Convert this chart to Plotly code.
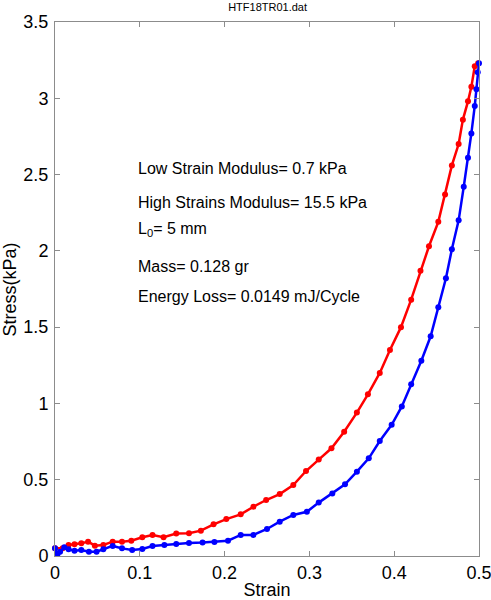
import plotly.graph_objects as go

# Loading curve (red)
red_strain = [0.0, 0.009, 0.016, 0.023, 0.031, 0.039, 0.047, 0.057, 0.068, 0.079, 0.090,
              0.103, 0.115, 0.128, 0.143, 0.158, 0.172, 0.187, 0.202, 0.219, 0.234, 0.249,
              0.265, 0.281, 0.296, 0.311, 0.326, 0.341, 0.356, 0.369, 0.383, 0.395, 0.408,
              0.420, 0.431, 0.441, 0.452, 0.460, 0.468, 0.476, 0.481, 0.487, 0.491, 0.495, 0.499]
red_stress = [0.05, 0.05, 0.072, 0.077, 0.083, 0.094, 0.068, 0.072, 0.094, 0.094, 0.10,
              0.123, 0.138, 0.123, 0.147, 0.149, 0.166, 0.208, 0.242, 0.273, 0.323, 0.367,
              0.406, 0.465, 0.557, 0.632, 0.706, 0.815, 0.94, 1.06, 1.20, 1.35, 1.50,
              1.68, 1.87, 2.03, 2.19, 2.37, 2.56, 2.70, 2.86, 2.98, 3.075, 3.21, 3.23]

# Unloading curve (blue)
blue_strain = [0.0, 0.003, 0.006, 0.011, 0.016, 0.023, 0.031, 0.040, 0.049, 0.057, 0.068,
               0.079, 0.091, 0.103, 0.115, 0.129, 0.143, 0.158, 0.174, 0.188, 0.204, 0.219,
               0.234, 0.250, 0.265, 0.281, 0.297, 0.311, 0.327, 0.342, 0.356, 0.370, 0.383,
               0.397, 0.409, 0.420, 0.432, 0.443, 0.452, 0.461, 0.468, 0.476, 0.482, 0.487,
               0.491, 0.495, 0.497, 0.4985, 0.5]
blue_stress = [0.05, 0.013, 0.028, 0.057, 0.044, 0.035, 0.039, 0.028, 0.028, 0.044, 0.066,
               0.05, 0.039, 0.046, 0.066, 0.072, 0.079, 0.085, 0.088, 0.092, 0.10, 0.138,
               0.138, 0.177, 0.225, 0.269, 0.29, 0.35, 0.41, 0.47, 0.553, 0.64, 0.754,
               0.86, 0.98, 1.125, 1.28, 1.44, 1.63, 1.82, 2.01, 2.20, 2.42, 2.61,
               2.77, 2.95, 3.06, 3.17, 3.23]

x_ticks = [0, 0.1, 0.2, 0.3, 0.4, 0.5]
x_tick_labels = ["0", "0.1", "0.2", "0.3", "0.4", "0.5"]
y_ticks = [0, 0.5, 1, 1.5, 2, 2.5, 3, 3.5]
y_tick_labels = ["0", "0.5", "1", "1.5", "2", "2.5", "3", "3.5"]

info_lines = [
    "Low Strain Modulus= 0.7 kPa",
    "High Strains Modulus= 15.5 kPa",
    "L<sub>0</sub>= 5 mm",
    "Mass= 0.128 gr",
    "Energy Loss= 0.0149 mJ/Cycle",
]
info_y = [2.54, 2.32, 2.14, 1.90, 1.70]

FONT = "Liberation Sans, Arial, Helvetica, sans-serif"

fig = go.Figure()
fig.add_trace(go.Scatter(x=red_strain, y=red_stress, mode="lines+markers",
                         line=dict(color="#ff0000", width=2.5),
                         marker=dict(color="#ff0000", size=6), showlegend=False,
                         cliponaxis=False))
fig.add_trace(go.Scatter(x=blue_strain, y=blue_stress, mode="lines+markers",
                         line=dict(color="#0000ff", width=2.5),
                         marker=dict(color="#0000ff", size=6), showlegend=False,
                         cliponaxis=False))

for txt, yy in zip(info_lines, info_y):
    fig.add_annotation(x=0.096, y=yy, xref="x", yref="y", text=txt, showarrow=False,
                       xanchor="left", yanchor="middle",
                       font=dict(family=FONT, size=16, color="black"))

fig.add_annotation(x=-0.105, y=0.5, xref="paper", yref="paper", text="Stress(kPa)",
                   showarrow=False, textangle=-90, xanchor="center", yanchor="middle",
                   font=dict(family=FONT, size=18, color="black"))

axis_common = dict(showline=True, linecolor="#8c8c8c", linewidth=1, mirror="ticks",
                   ticks="inside", ticklen=5, tickcolor="#8c8c8c", showgrid=False,
                   zeroline=False, automargin=False, ticklabeloverflow="allow",
                   tickfont=dict(family=FONT, size=18, color="black"))

fig.update_layout(
    width=491, height=600,
    margin=dict(l=55, r=12, t=22, b=44),
    paper_bgcolor="white", plot_bgcolor="white",
    title=dict(text="HTF18TR01.dat", x=0.545, xanchor="center", y=0.988, yanchor="middle",
               automargin=False,
               font=dict(family=FONT, size=11, color="black")),
    xaxis=dict(range=[0, 0.5], tickvals=x_ticks, ticktext=x_tick_labels,
               title=dict(text="Strain", standoff=2, font=dict(family=FONT, size=18, color="black")),
               **axis_common),
    yaxis=dict(range=[0, 3.5], tickvals=y_ticks, ticktext=y_tick_labels, ticklabelstandoff=2,
               **axis_common),
)

fig.write_html("out.html", config={"displayModeBar": False},
               post_script="document.body.style.margin='0px';")
